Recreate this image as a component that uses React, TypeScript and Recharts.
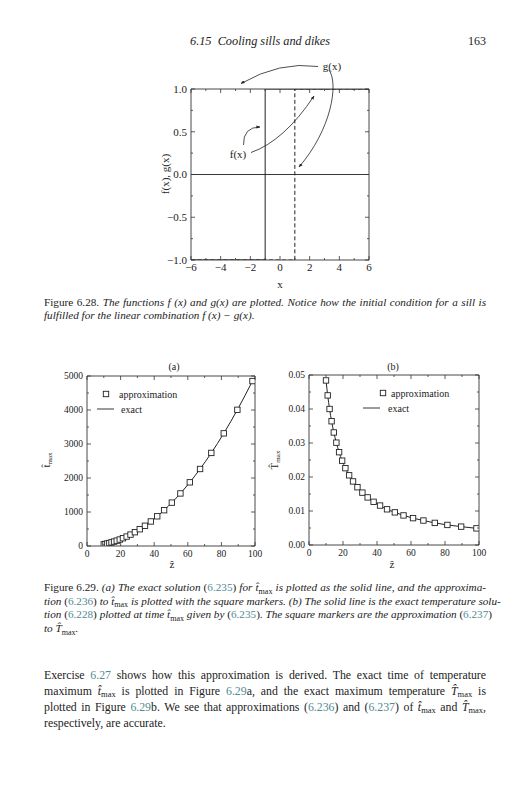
import React from 'react';
import { ComposedChart, Line, XAxis, YAxis, ReferenceLine } from 'recharts';

const SERIF = '"Liberation Serif", "DejaVu Serif", serif';
const INK = '#222';
const FRAME = '#333';
const LINK = '#4f8a96';

// Figure 6.28: step functions f and g
const fX = [-6, -1, -1, 6];
const fY = [-1, -1, 1, 1];
const gX = [-6, 1, 1, 6];
const gY = [-1, -1, 1, 1];
const xMajor628 = [-6, -4, -2, 0, 2, 4, 6];
const xMinor628 = [-5, -3, -1, 1, 3, 5];
const yMajor628 = [-1, -0.5, 0, 0.5, 1];
const yMinor628 = [-0.75, -0.25, 0.25, 0.75];

// Figure 6.29: z-hat, t-hat max and T-hat max
const zHat = [10, 11, 12.1, 13.3, 14.6, 16.1, 17.7, 19.5, 21.4, 23.6, 25.9, 28.5, 31.4, 34.5, 38, 41.8, 45.9, 50.5, 55.6, 61.2, 67.3, 74, 81.4, 89.5, 98.5];
const tMax = [50, 60, 73, 88, 107, 130, 157, 190, 229, 278, 335, 406, 493, 595, 722, 874, 1053, 1275, 1546, 1873, 2265, 2738, 3313, 4005, 4851];
const TMax = [0.0484, 0.044, 0.04, 0.0364, 0.0331, 0.0301, 0.0273, 0.0248, 0.0226, 0.0205, 0.0187, 0.017, 0.0154, 0.014, 0.0127, 0.0116, 0.0105, 0.0096, 0.0087, 0.0079, 0.0072, 0.0065, 0.0059, 0.0054, 0.0049];
const zMajor = [0, 20, 40, 60, 80, 100];
const zMinor = [10, 30, 50, 70, 90];
const tMajor = [0, 1000, 2000, 3000, 4000, 5000];
const tMinor = [500, 1500, 2500, 3500, 4500];
const TMajor = [0, 0.01, 0.02, 0.03, 0.04, 0.05];
const TMinor = [0.005, 0.015, 0.025, 0.035, 0.045];

const fData = fX.map((x, i) => ({ x, y: fY[i] }));
const gData = gX.map((x, i) => ({ x, y: gY[i] }));
const data629 = zHat.map((z, i) => ({ z, t: tMax[i], T: TMax[i] }));

type Side = 'bottom' | 'top' | 'left' | 'right';

const makeTick = (side: Side, major: number[], fmt?: (v: number) => string, fontSize = 9, gap = 8) => (props: any) => {
  const { x, y, payload } = props;
  const v = payload.value;
  const isMajor = major.some((m) => Math.abs(m - v) < 1e-9);
  const len = isMajor ? 4 : 2;
  let x2 = x, y2 = y;
  if (side === 'bottom') y2 = y - len;
  if (side === 'top') y2 = y + len;
  if (side === 'left') x2 = x + len;
  if (side === 'right') x2 = x - len;
  let label = null;
  if (fmt && isMajor) {
    if (side === 'bottom') {
      label = <text x={x} y={y + gap + fontSize * 0.35} textAnchor="middle" fontSize={fontSize} fontFamily={SERIF} fill={INK}>{fmt(v)}</text>;
    } else {
      label = <text x={x - 4} y={y + fontSize * 0.35} textAnchor="end" fontSize={fontSize} fontFamily={SERIF} fill={INK}>{fmt(v)}</text>;
    }
  }
  return (
    <g>
      <line x1={x} y1={y} x2={x2} y2={y2} stroke={FRAME} strokeWidth={0.8} />
      {label}
    </g>
  );
};

const fmtSigned = (v: number) => (v < 0 ? '\u2212' + Math.abs(v).toFixed(1) : v.toFixed(1));
const fmtInt = (v: number) => String(v);
const fmt2 = (v: number) => v.toFixed(2);

const SquareDot = (props: any) => {
  const { cx, cy, index } = props;
  if (cx == null || cy == null) return <g key={index} />;
  return <rect key={index} x={cx - 2.7} y={cy - 2.7} width={5.4} height={5.4} fill="#fff" stroke={INK} strokeWidth={0.9} />;
};

const sorted = (a: number[], b: number[]) => [...a, ...b].sort((p, q) => p - q);

interface FrameProps {
  xMajor: number[];
  xMinor: number[];
  yMajor: number[];
  yMinor: number[];
  xDomain: [number, number];
  yDomain: [number, number];
  xFmt: (v: number) => string;
  yFmt: (v: number) => string;
  yWidth: number;
  xKey: string;
  fontSize: number;
  gap: number;
}

// bottom/left carry labels, top/right mirror the ticks and close the box
const frameAxes = (p: FrameProps) => [
  <XAxis key="xb" xAxisId={0} dataKey={p.xKey} type="number" domain={p.xDomain} ticks={sorted(p.xMajor, p.xMinor)} interval={0}
    height={35} tickSize={0} tickMargin={0} tickLine={false} axisLine={{ stroke: FRAME, strokeWidth: 0.9 }}
    tick={makeTick('bottom', p.xMajor, p.xFmt, p.fontSize, p.gap)} allowDataOverflow />,
  <XAxis key="xt" xAxisId="top" orientation="top" dataKey={p.xKey} type="number" domain={p.xDomain} ticks={sorted(p.xMajor, p.xMinor)} interval={0}
    height={1} tickSize={0} tickMargin={0} tickLine={false} axisLine={{ stroke: FRAME, strokeWidth: 0.9 }}
    tick={makeTick('top', p.xMajor)} allowDataOverflow />,
  <YAxis key="yl" yAxisId={0} type="number" domain={p.yDomain} ticks={sorted(p.yMajor, p.yMinor)} interval={0}
    width={p.yWidth} tickSize={0} tickMargin={0} tickLine={false} axisLine={{ stroke: FRAME, strokeWidth: 0.9 }}
    tick={makeTick('left', p.yMajor, p.yFmt, p.fontSize)} allowDataOverflow />,
  <YAxis key="yr" yAxisId="right" orientation="right" type="number" domain={p.yDomain} ticks={sorted(p.yMajor, p.yMinor)} interval={0}
    width={1} tickSize={0} tickMargin={0} tickLine={false} axisLine={{ stroke: FRAME, strokeWidth: 0.9 }}
    tick={makeTick('right', p.yMajor)} allowDataOverflow />,
];

const Sub = ({ children }: { children: React.ReactNode }) => (
  <span style={{ fontSize: '0.72em', position: 'relative', top: '0.3em', fontStyle: 'normal' }}>{children}</span>
);
const TH = () => <><i>t{'\u0302'}</i><Sub>max</Sub></>;
const BigTH = () => <><i>T{'\u0302'}</i><Sub>max</Sub></>;
const Ref = ({ n }: { n: string }) => <span style={{ fontStyle: 'normal' }}>(<span style={{ color: LINK }}>{n}</span>)</span>;
const Lnk = ({ n }: { n: string }) => <span style={{ color: LINK }}>{n}</span>;

const TextLine = ({ top, size, last, children }: { top: number; size: number; last?: boolean; children: React.ReactNode }) => (
  <div style={{
    position: 'absolute', left: 44, width: 442, top: top - size * 0.6, height: size * 1.2, lineHeight: `${size * 1.2}px`,
    fontSize: size, whiteSpace: 'nowrap', textAlign: last ? 'left' : 'justify', textAlignLast: last ? 'left' : 'justify',
  } as React.CSSProperties}>{children}</div>
);

const CAP = 11.2;
const BODY = 11.8;

const Arrows = () => (
  <svg width={532} height={800} style={{ position: 'absolute', left: 0, top: 0, pointerEvents: 'none' }}>
    <defs>
      <marker id="ah" viewBox="0 0 10 10" refX="9" refY="5" markerWidth="5" markerHeight="5" orient="auto">
        <path d="M0,1 L10,5 L0,9 z" fill={INK} />
      </marker>
    </defs>
    <g fill="none" stroke={INK} strokeWidth={0.8} markerEnd="url(#ah)">
      <path d="M318,66.5 Q280,61 241,83.5" />
      <path d="M329,70 C339,84 331,130 299,167" />
      <path d="M243.5,145 Q243,127 260,127" />
      <path d="M251,152.5 Q284,141 314,96" />
    </g>
    <g fontFamily={SERIF} fill={INK} fontSize={11}>
      <text x={332} y={66} textAnchor="middle" dominantBaseline="central">g(x)</text>
      <text x={238} y={153.5} textAnchor="middle" dominantBaseline="central">f(x)</text>
      <text x={280} y={284} textAnchor="middle" dominantBaseline="central">x</text>
      <text transform="translate(165,174) rotate(-90)" textAnchor="middle" dominantBaseline="central">f(x), g(x)</text>

      <text x={174} y={366} textAnchor="middle" dominantBaseline="central" fontSize={10}>(a)</text>
      <text x={393} y={366} textAnchor="middle" dominantBaseline="central" fontSize={10}>(b)</text>
      <text x={172} y={564} textAnchor="middle" dominantBaseline="central" fontSize={11}>{'\u1E91'}</text>
      <text x={392} y={564} textAnchor="middle" dominantBaseline="central" fontSize={11}>{'\u1E91'}</text>
      <text transform="translate(50,460) rotate(-90)" textAnchor="middle" fontSize={11}>
        {'t\u0302'}<tspan fontSize={7} dy={2}>max</tspan>
      </text>
      <text transform="translate(278,460) rotate(-90)" textAnchor="middle" fontSize={11}>
        {'T\u0302'}<tspan fontSize={7} dy={2}>max</tspan>
      </text>

      {/* legends */}
      <rect x={103.3} y={391.3} width={5.4} height={5.4} fill="#fff" stroke={INK} strokeWidth={0.9} />
      <text x={119} y={394} dominantBaseline="central" fontSize={10}>approximation</text>
      <line x1={97} y1={409} x2={114} y2={409} stroke={INK} strokeWidth={0.9} />
      <text x={121} y={409} dominantBaseline="central" fontSize={10}>exact</text>

      <rect x={380.3} y={390.3} width={5.4} height={5.4} fill="#fff" stroke={INK} strokeWidth={0.9} />
      <text x={391} y={393} dominantBaseline="central" fontSize={10}>approximation</text>
      <line x1={363} y1={408} x2={380} y2={408} stroke={INK} strokeWidth={0.9} />
      <text x={388} y={408} dominantBaseline="central" fontSize={10}>exact</text>
    </g>
  </svg>
);

export default function App() {
  return (
    <div style={{ position: 'absolute', left: 0, top: 0, width: 532, height: 800, background: '#fff', fontFamily: SERIF, color: INK, overflow: 'hidden' }}>
      {/* running head */}
      <div style={{ position: 'absolute', left: 190, top: 34, fontSize: 12.3, fontStyle: 'italic', whiteSpace: 'nowrap' }}>6.15&nbsp; Cooling sills and dikes</div>
      <div style={{ position: 'absolute', left: 436, width: 50, top: 34, fontSize: 12, textAlign: 'right' }}>163</div>

      {/* Figure 6.28 */}
      <div style={{ position: 'absolute', left: 140, top: 60 }}>
        <ComposedChart width={240} height={235} margin={{ top: 28, right: 10, bottom: 0, left: 0 }}>
          {frameAxes({ xMajor: xMajor628, xMinor: xMinor628, yMajor: yMajor628, yMinor: yMinor628, xDomain: [-6, 6], yDomain: [-1, 1], xFmt: (v) => (v < 0 ? '\u2212' + Math.abs(v) : String(v)), yFmt: fmtSigned, yWidth: 51, xKey: 'x', fontSize: 11, gap: 7 })}
          <ReferenceLine y={0} stroke={INK} strokeWidth={0.9} />
          <Line data={fData} dataKey="y" type="linear" stroke={INK} strokeWidth={1} dot={false} isAnimationActive={false} />
          <Line data={gData} dataKey="y" type="linear" stroke={INK} strokeWidth={1} strokeDasharray="4 2.5" dot={false} isAnimationActive={false} />
          <Line data={fData} dataKey="y" xAxisId="top" yAxisId="right" stroke="none" dot={false} legendType="none" isAnimationActive={false} />
        </ComposedChart>
      </div>

      <TextLine top={303} size={CAP}>
        Figure 6.28. <i>The functions f (x) and g(x) are plotted. Notice how the initial condition for a sill is</i>
      </TextLine>
      <TextLine top={316} size={CAP} last>
        <i>fulfilled for the linear combination f (x) {'\u2212'} g(x).</i>
      </TextLine>

      {/* Figure 6.29a */}
      <div style={{ position: 'absolute', left: 0, top: 350 }}>
        <ComposedChart width={270} height={231} data={data629} margin={{ top: 25, right: 14, bottom: 0, left: 0 }}>
          {frameAxes({ xMajor: zMajor, xMinor: zMinor, yMajor: tMajor, yMinor: tMinor, xDomain: [0, 100], yDomain: [0, 5000], xFmt: fmtInt, yFmt: fmtInt, yWidth: 87, xKey: 'z', fontSize: 9.5, gap: 8 })}
          <Line dataKey="t" type="monotone" stroke={INK} strokeWidth={1} dot={false} isAnimationActive={false} />
          <Line dataKey="t" type="monotone" stroke="none" dot={<SquareDot />} isAnimationActive={false} />
          <Line dataKey="t" xAxisId="top" yAxisId="right" stroke="none" dot={false} legendType="none" isAnimationActive={false} />
        </ComposedChart>
      </div>

      {/* Figure 6.29b */}
      <div style={{ position: 'absolute', left: 270, top: 350 }}>
        <ComposedChart width={262} height={230} data={data629} margin={{ top: 24, right: 52, bottom: 0, left: 0 }}>
          {frameAxes({ xMajor: zMajor, xMinor: zMinor, yMajor: TMajor, yMinor: TMinor, xDomain: [0, 100], yDomain: [0, 0.05], xFmt: fmtInt, yFmt: fmt2, yWidth: 39, xKey: 'z', fontSize: 9.5, gap: 8 })}
          <Line dataKey="T" type="monotone" stroke={INK} strokeWidth={1} dot={false} isAnimationActive={false} />
          <Line dataKey="T" type="monotone" stroke="none" dot={<SquareDot />} isAnimationActive={false} />
          <Line dataKey="T" xAxisId="top" yAxisId="right" stroke="none" dot={false} legendType="none" isAnimationActive={false} />
        </ComposedChart>
      </div>

      <Arrows />

      <TextLine top={588} size={CAP}>
        Figure 6.29. <i>(a) The exact solution <Ref n="6.235" /> for <TH /> is plotted as the solid line, and the approxima-</i>
      </TextLine>
      <TextLine top={601.5} size={CAP}>
        <i>tion <Ref n="6.236" /> to <TH /> is plotted with the square markers. (b) The solid line is the exact temperature solu-</i>
      </TextLine>
      <TextLine top={615} size={CAP}>
        <i>tion <Ref n="6.228" /> plotted at time <TH /> given by <Ref n="6.235" />. The square markers are the approximation <Ref n="6.237" /></i>
      </TextLine>
      <TextLine top={629} size={CAP} last>
        <i>to <BigTH />.</i>
      </TextLine>

      <TextLine top={675} size={BODY}>
        Exercise <Lnk n="6.27" /> shows how this approximation is derived. The exact time of temperature
      </TextLine>
      <TextLine top={691} size={BODY}>
        maximum <TH /> is plotted in Figure <Lnk n="6.29" />a, and the exact maximum temperature <BigTH /> is
      </TextLine>
      <TextLine top={707} size={BODY}>
        plotted in Figure <Lnk n="6.29" />b. We see that approximations <Ref n="6.236" /> and <Ref n="6.237" /> of <TH /> and <BigTH />,
      </TextLine>
      <TextLine top={723} size={BODY} last>
        respectively, are accurate.
      </TextLine>
    </div>
  );
}
